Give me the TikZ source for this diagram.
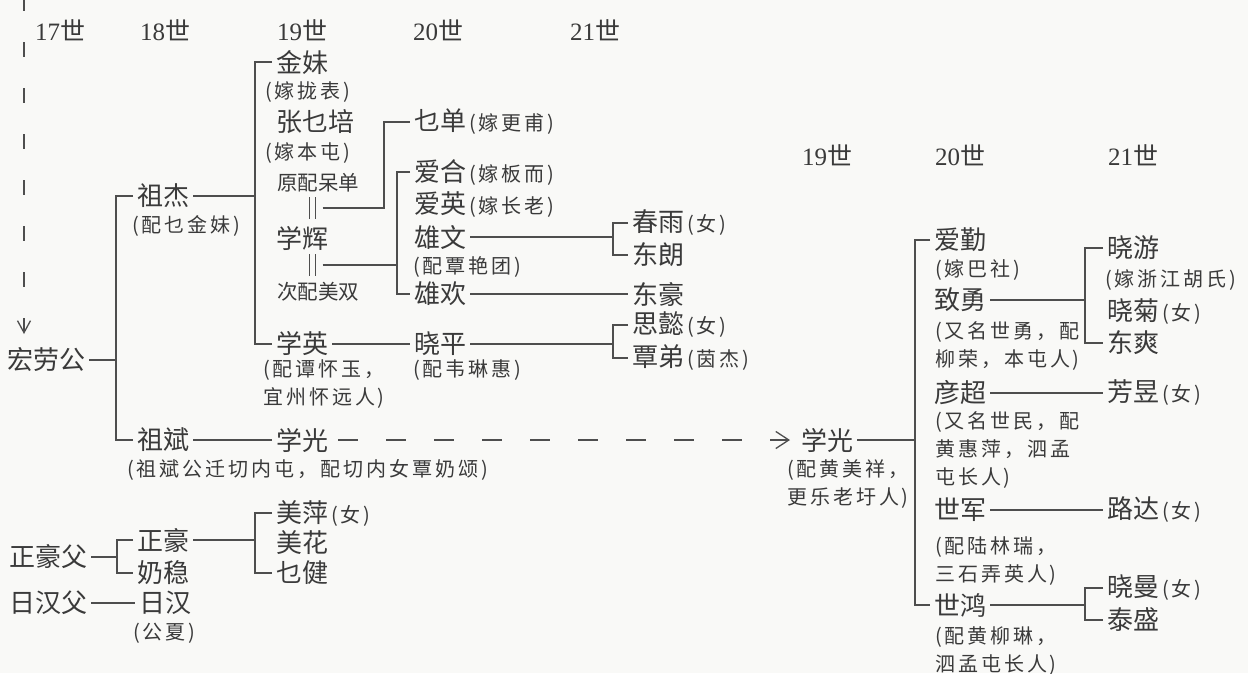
\documentclass[tikz,border=0pt]{standalone}
\usepackage{fontspec}
\setmainfont{Noto Sans CJK SC}
\newfontfamily\numfont{Liberation Serif}
\newfontfamily\notefont{Noto Sans CJK SC}[LetterSpace=15]
\usepackage{xcolor}
\usetikzlibrary{arrows.meta, calc}
\definecolor{inkgray}{HTML}{3A3A3A}
\definecolor{linegray}{HTML}{4E4E4E}
\definecolor{paper}{HTML}{F9F9F7}
\newcommand{\sm}{\notefont\fontsize{20}{28}\selectfont}
\newcommand{\lp}{(\kern3pt}
\newcommand{\rp}{\kern2.5pt)}
\newcommand{\aside}[1]{{\sm\kern3pt\lp #1\rp}}
\tikzset{
  nm/.style={font=\fontsize{26}{30}\selectfont, text=inkgray, anchor=west, inner xsep=4pt, inner ysep=0pt},
  note/.style={font=\sm, text=inkgray, anchor=west, inner sep=0pt, align=left},
  gen/.style={font=\fontsize{25}{30}\selectfont, text=inkgray, anchor=west, inner sep=0pt},
  tie/.style={draw=linegray, line width=1.3pt},
  trail/.style={tie, dash pattern=on 20pt off 28pt, dash phase=42pt, -{Straight Barb[length=13pt, width=17pt]}},
}

\begin{document}
\begin{tikzpicture}[x=1pt, y=-1pt]
  \fill[paper] (0,0) rectangle (1248,673);
  \useasboundingbox (0,0) rectangle (1248,673);
  % generations
  \node[gen] (g17) at (35,30)   {{\numfont 17}世};
  \node[gen] (g18) at (140,30)  {{\numfont 18}世};
  \node[gen] (g19) at (277,30)  {{\numfont 19}世};
  \node[gen] (g20) at (413,30)  {{\numfont 20}世};
  \node[gen] (g21) at (570,30)  {{\numfont 21}世};
  \node[gen] (r19) at (802,155) {{\numfont 19}世};
  \node[gen] (r20) at (935,155) {{\numfont 20}世};
  \node[gen] (r21) at (1108,155){{\numfont 21}世};

  % left tree
  \node[nm] (hlg) at (3,360)   {宏劳公};
  \node[nm] (zj)  at (133,196) {祖杰};
  \node[note]     at (132,226) {\lp 配乜金妹\rp};
  \node[nm] (zb)  at (133,440) {祖斌};
  \node[note]     at (127,470) {\lp 祖斌公迁切内屯，配切内女覃奶颂\rp};
  \node[nm] (jm)  at (272,62)  {金妹};
  \node[note]     at (265,92)  {\lp 嫁拢表\rp};
  \node[nm] (zyp) at (272,122) {张乜培};
  \node[note]     at (265,153) {\lp 嫁本屯\rp};
  \node[note, font=\fontsize{20.5}{24}\selectfont] at (277,183) {原配呆单};
  \node[nm] (xh)  at (272,238) {学辉};
  \node[note, font=\fontsize{20.5}{24}\selectfont] at (277,292) {次配美双};
  \node[nm] (xy)  at (272,344) {学英};
  \node[note]     at (263,384) {\lp 配谭怀玉，\\宜州怀远人\rp};
  \node[nm] (xg)  at (272,440) {学光};
  \node[nm] (qd)  at (410,122) {乜单\aside{嫁更甫}};
  \node[nm] (ah)  at (410,172) {爱合\aside{嫁板而}};
  \node[nm] (ay)  at (410,205) {爱英\aside{嫁长老}};
  \node[nm] (xw)  at (410,237) {雄文};
  \node[note]     at (413,267) {\lp 配覃艳团\rp};
  \node[nm] (xhu) at (410,294) {雄欢};
  \node[nm] (xp)  at (410,344) {晓平};
  \node[note]     at (413,370) {\lp 配韦琳惠\rp};
  \node[nm] (cy)  at (628,223) {春雨\aside{女}};
  \node[nm] (dl)  at (628,255) {东朗};
  \node[nm] (dh)  at (628,294) {东豪};
  \node[nm] (sy)  at (628,325) {思懿\aside{女}};
  \node[nm] (td)  at (628,358) {覃弟\aside{茵杰}};

  % lower left
  \node[nm] (zhf) at (5,557)   {正豪父};
  \node[nm] (zh)  at (133,540) {正豪};
  \node[nm] (nw)  at (133,573) {奶稳};
  \node[nm] (mp)  at (272,513) {美萍\aside{女}};
  \node[nm] (mh)  at (272,543) {美花};
  \node[nm] (qj)  at (272,573) {乜健};
  \node[nm] (rhf) at (5,603)   {日汉父};
  \node[nm] (rh)  at (135,603) {日汉};
  \node[note]     at (133,633) {\lp 公夏\rp};

  % right tree
  \node[nm] (xg2) at (797,440)  {学光};
  \node[note]     at (787,484)  {\lp 配黄美祥，\\更乐老圩人\rp};
  \node[nm] (aq)  at (930,240)  {爱勤};
  \node[note]     at (935,270)  {\lp 嫁巴社\rp};
  \node[nm] (zy)  at (930,300)  {致勇};
  \node[note]     at (935,346)  {\lp 又名世勇，配\\柳荣，本屯人\rp};
  \node[nm] (yc)  at (930,393)  {彦超};
  \node[note]     at (935,450)  {\lp 又名世民，配\\黄惠萍，泗孟\\屯长人\rp};
  \node[nm] (sj)  at (930,510)  {世军};
  \node[note]     at (935,561)  {\lp 配陆林瑞，\\三石弄英人\rp};
  \node[nm] (sh)  at (930,605)  {世鸿};
  \node[note]     at (935,651)  {\lp 配黄柳琳，\\泗孟屯长人\rp};
  \node[nm] (xyo) at (1103,248) {晓游};
  \node[note]     at (1105,280) {\lp 嫁浙江胡氏\rp};
  \node[nm] (xj)  at (1103,312) {晓菊\aside{女}};
  \node[nm] (ds)  at (1103,343) {东爽};
  \node[nm] (fy)  at (1103,393) {芳昱\aside{女}};
  \node[nm] (ld)  at (1103,510) {路达\aside{女}};
  \node[nm] (xm)  at (1103,588) {晓曼\aside{女}};
  \node[nm] (ts)  at (1103,620) {泰盛};

  % bracket joints and marriage marks
  \coordinate (src) at (24,0);
  \coordinate (dst) at (24,334);
  \coordinate (b0) at (116,360);
  \coordinate (b1) at (255,196);
  \coordinate (b2) at (613,344);
  \coordinate (b3) at (613,237);
  \coordinate (b4) at (397,265);
  \coordinate (b5) at (915,440);
  \coordinate (b6) at (1085,300);
  \coordinate (b7) at (1085,605);
  \coordinate (b8) at (117,557);
  \coordinate (b9) at (255,540);
  \coordinate (m1) at (312.5,208);
  \coordinate (m2) at (312.5,265);
  \foreach \m in {m1,m2}
    \foreach \dx in {-3,3}
      \draw[tie, line width=1.1pt] ([xshift=\dx pt]\m) ++(0,-11) -- ++(0,22);

  \draw[tie, dash pattern=on 15pt off 31pt, dash phase=4pt, -{Straight Barb[length=12pt, width=13pt]}] (src) -- (dst);
  \draw[trail] (xg.east) -- ([xshift=-7pt]xg2.west);

  \foreach \u/\v in {hlg/b0, zj/b1, xp/b2, xw/b3, xg2/b5, zy/b6, sh/b7, zhf/b8, zh/b9}
    \draw[tie] (\u.east) -- (\v);
  \foreach \u/\b/\v in {zj/b0/zb, jm/b1/xy, sy/b2/td, cy/b3/dl, ah/b4/xhu, aq/b5/sh, xyo/b6/ds, xm/b7/ts, zh/b8/nw, mp/b9/qj}
    \draw[tie] (\u.west) -| (\b) |- (\v.west);
  \foreach \u/\v in {xy/xp, xhu/dh, zb/xg, yc/fy, sj/ld, rhf/rh}
    \draw[tie] (\u.east) -- (\v.west);
  \draw[tie] ([xshift=10pt]m1) -| ([xshift=-26pt]qd.west) -- (qd.west);
  \draw[tie] ([xshift=10pt]m2) -- (b4);
\end{tikzpicture}
\end{document}
